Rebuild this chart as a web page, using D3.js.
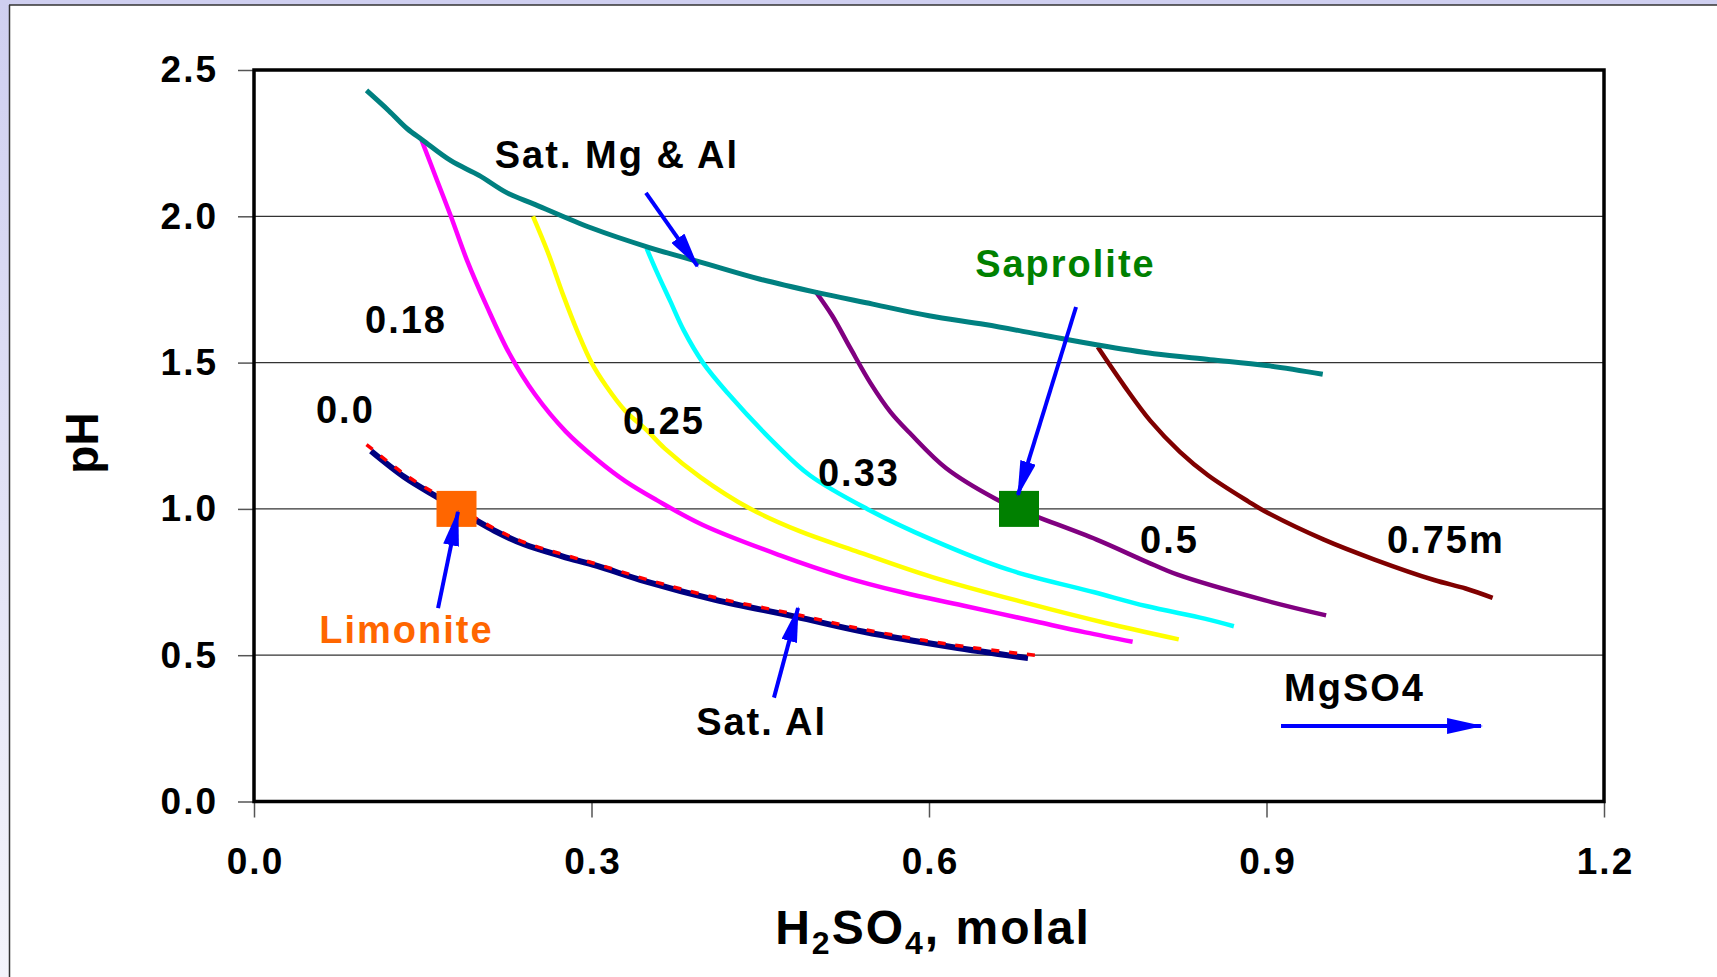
<!DOCTYPE html>
<html>
<head>
<meta charset="utf-8">
<script src="https://cdn.jsdelivr.net/npm/d3@7"></script>
<style>
  html, body { margin: 0; padding: 0; background: #fff; }
  svg { display: block; font-family: "Liberation Sans", Arial, sans-serif; font-weight: bold; }
</style>
</head>
<body>
<div id="chart"></div>
<script>
// axis ticks
const xTicks = [0, 0.3, 0.6, 0.9, 1.2];
const yTicks = [0, 0.5, 1.0, 1.5, 2.0, 2.5];

// saturation line for Mg & Al
const satMgAl = [[0.10, 2.43], [0.12, 2.36], [0.136, 2.30], [0.15, 2.26], [0.175, 2.19], [0.20, 2.14],
  [0.225, 2.08], [0.25, 2.04], [0.30, 1.96], [0.35, 1.895], [0.40, 1.84], [0.45, 1.785], [0.50, 1.74],
  [0.55, 1.70], [0.60, 1.66], [0.65, 1.63], [0.70, 1.595], [0.75, 1.56], [0.80, 1.53], [0.85, 1.51],
  [0.90, 1.49], [0.95, 1.46]];

// MgSO4 = 0.18 m
const mg018 = [[0.149, 2.26], [0.163, 2.12], [0.175, 2.0], [0.189, 1.853], [0.207, 1.692], [0.227, 1.531],
  [0.25, 1.39], [0.277, 1.265], [0.305, 1.168], [0.33, 1.095], [0.358, 1.03], [0.399, 0.945],
  [0.467, 0.842], [0.524, 0.768], [0.576, 0.715], [0.63, 0.67], [0.695, 0.615], [0.739, 0.578],
  [0.781, 0.546]];

// MgSO4 = 0.25 m
const mg025 = [[0.248, 2.0], [0.261, 1.879], [0.275, 1.729], [0.288, 1.602], [0.30, 1.50], [0.313, 1.42],
  [0.33, 1.335], [0.349, 1.269], [0.365, 1.207], [0.397, 1.108], [0.44, 1.003], [0.485, 0.924],
  [0.535, 0.856], [0.603, 0.767], [0.688, 0.677], [0.757, 0.61], [0.822, 0.554]];

// MgSO4 = 0.33 m
const mg033 = [[0.349, 1.89], [0.358, 1.81], [0.37, 1.71], [0.382, 1.61], [0.399, 1.50], [0.421, 1.396],
  [0.464, 1.22], [0.494, 1.115], [0.545, 1.0], [0.603, 0.894], [0.67, 0.793], [0.747, 0.715],
  [0.793, 0.668], [0.845, 0.625], [0.871, 0.599]];

// MgSO4 = 0.5 m
const mg05 = [[0.499, 1.744], [0.514, 1.66], [0.53, 1.55], [0.548, 1.43], [0.566, 1.33], [0.584, 1.255],
  [0.615, 1.14], [0.659, 1.035], [0.681, 0.996], [0.749, 0.895], [0.793, 0.82], [0.821, 0.775],
  [0.898, 0.688], [0.953, 0.636]];

// MgSO4 = 0.75 m
const mg075 = [[0.75, 1.553], [0.774, 1.418], [0.797, 1.30], [0.823, 1.195], [0.848, 1.115], [0.884, 1.025],
  [0.898, 0.993], [0.951, 0.895], [0.996, 0.827], [1.049, 0.757], [1.077, 0.728], [1.101, 0.696]];

// MgSO4 = 0.0, saturated Al
const mg00 = [[0.104, 1.198], [0.134, 1.108], [0.163, 1.04], [0.182, 0.996], [0.216, 0.921], [0.24, 0.879],
  [0.274, 0.838], [0.305, 0.805], [0.348, 0.752], [0.41, 0.689], [0.481, 0.632], [0.542, 0.58],
  [0.62, 0.528], [0.688, 0.49]];

// saturated Al (fit, dashed)
const satAl = [[0.10, 1.22], [0.134, 1.118], [0.163, 1.048], [0.182, 1.003], [0.216, 0.928], [0.24, 0.886],
  [0.274, 0.845], [0.305, 0.811], [0.348, 0.76], [0.41, 0.697], [0.481, 0.64], [0.542, 0.588],
  [0.62, 0.536], [0.70, 0.497]];

// ore points
const ores = [
  { name: "Limonite", x: 0.18, y: 1.0, color: "#ff6600" },
  { name: "Saprolite", x: 0.68, y: 1.0, color: "#008000" }
];

// text labels (data coords, left/baseline)
const labels = [
  { text: "Sat. Mg & Al", x: 0.214, y: 2.165, color: "#000" },
  { text: "Saprolite", x: 0.641, y: 1.793, color: "#008000" },
  { text: "Limonite", x: 0.058, y: 0.542, color: "#ff6600" },
  { text: "Sat. Al", x: 0.393, y: 0.227, color: "#000" },
  { text: "MgSO4", x: 0.9156, y: 0.3435, color: "#000" },
  { text: "0.18", x: 0.0987, y: 1.601, color: "#000" },
  { text: "0.0", x: 0.0551, y: 1.294, color: "#000" },
  { text: "0.25", x: 0.328, y: 1.256, color: "#000" },
  { text: "0.33", x: 0.5013, y: 1.078, color: "#000" },
  { text: "0.5", x: 0.7876, y: 0.849, color: "#000" },
  { text: "0.75m", x: 1.0071, y: 0.849, color: "#000" }
];

// blue arrows [from, to]
const arrows = [
  [[0.3484, 2.080], [0.3942, 1.830]],
  [[0.7307, 1.690], [0.6791, 1.048]],
  [[0.1636, 0.661], [0.1813, 0.990]],
  [[0.4622, 0.355], [0.4836, 0.661]],
  [[0.9129, 0.258], [1.0907, 0.258]]
];

const width = 1717, height = 977;
const plot = { left: 254, right: 1604, top: 70, bottom: 801.5 };

const svg = d3.select("#chart").append("svg")
  .attr("width", width)
  .attr("height", height);

// slide frame
const defs = svg.append("defs");
const grad = defs.append("linearGradient").attr("id", "side").attr("x1", 0).attr("y1", 0).attr("x2", 0).attr("y2", 1);
grad.append("stop").attr("offset", "0%").attr("stop-color", "#cfcff0");
grad.append("stop").attr("offset", "100%").attr("stop-color", "#f4f4fb");

svg.append("rect").attr("x", 0).attr("y", 0).attr("width", 10).attr("height", height).attr("fill", "url(#side)");
svg.append("rect").attr("x", 0).attr("y", 0).attr("width", width).attr("height", 5).attr("fill", "#cfcff0");
svg.append("line").attr("x1", 9).attr("y1", 5).attr("x2", width).attr("y2", 5).attr("stroke", "#333").attr("stroke-width", 1.5);
svg.append("line").attr("x1", 9.5).attr("y1", 5).attr("x2", 9.5).attr("y2", height).attr("stroke", "#333").attr("stroke-width", 1.5);

defs.append("marker")
  .attr("id", "head")
  .attr("markerUnits", "userSpaceOnUse")
  .attr("viewBox", "0 0 36 16")
  .attr("refX", 34).attr("refY", 8)
  .attr("markerWidth", 36).attr("markerHeight", 16)
  .attr("orient", "auto")
  .append("path")
  .attr("d", "M0,0 L36,8 L0,16 Z")
  .attr("fill", "#0000ff");

const x = d3.scaleLinear().domain([0, 1.2]).range([plot.left, plot.right]);
const y = d3.scaleLinear().domain([0, 2.5]).range([plot.bottom, plot.top]);

// gridlines
svg.append("g").selectAll("line")
  .data(yTicks.filter(d => d > 0 && d < 2.5))
  .join("line")
  .attr("x1", plot.left).attr("x2", plot.right)
  .attr("y1", d => y(d)).attr("y2", d => y(d))
  .attr("stroke", "#333").attr("stroke-width", 1.3);

// axes
const yAxis = svg.append("g")
  .attr("transform", `translate(${plot.left},0)`)
  .call(d3.axisLeft(y).tickValues(yTicks).tickFormat(d3.format(".1f")).tickSize(16).tickPadding(20));
const xAxis = svg.append("g")
  .attr("transform", `translate(0,${plot.bottom})`)
  .call(d3.axisBottom(x).tickValues(xTicks).tickFormat(d3.format(".1f")).tickSize(16).tickPadding(30));

[xAxis, yAxis].forEach(a => {
  a.select(".domain").remove();
  a.selectAll(".tick line").attr("stroke", "#555").attr("stroke-width", 1.5);
  a.selectAll(".tick text")
    .attr("fill", "#000")
    .style("font-size", "37px")
    .style("font-weight", "bold")
    .style("letter-spacing", "2px")
    .style("font-family", "'Liberation Sans', Arial, sans-serif");
});
xAxis.selectAll(".tick text").attr("dx", "1px");

// plot frame
svg.append("rect")
  .attr("x", plot.left).attr("y", plot.top)
  .attr("width", plot.right - plot.left).attr("height", plot.bottom - plot.top)
  .attr("fill", "none").attr("stroke", "#000").attr("stroke-width", 3.5);

const line = d3.line().x(d => x(d[0])).y(d => y(d[1])).curve(d3.curveCatmullRom.alpha(0.5));

const series = [
  { data: mg00, color: "#000080", w: 6 },
  { data: satAl, color: "#ff0000", w: 3.5, dash: "8,10" },
  { data: mg018, color: "#ff00ff", w: 4.5 },
  { data: mg025, color: "#ffff00", w: 4.5 },
  { data: mg033, color: "#00ffff", w: 4.5 },
  { data: mg05, color: "#800080", w: 4.5 },
  { data: mg075, color: "#800000", w: 4.5 },
  { data: satMgAl, color: "#008080", w: 5 }
];

svg.append("g").selectAll("path")
  .data(series)
  .join("path")
  .attr("d", d => line(d.data))
  .attr("fill", "none")
  .attr("stroke", d => d.color)
  .attr("stroke-width", d => d.w)
  .attr("stroke-dasharray", d => d.dash || null)
  .attr("stroke-linejoin", "round");

// ore markers
svg.append("g").selectAll("rect")
  .data(ores)
  .join("rect")
  .attr("x", d => x(d.x) - 20).attr("y", d => y(d.y) - 18)
  .attr("width", 40).attr("height", 36)
  .attr("fill", d => d.color);

// arrows
svg.append("g").selectAll("line")
  .data(arrows)
  .join("line")
  .attr("x1", d => x(d[0][0])).attr("y1", d => y(d[0][1]))
  .attr("x2", d => x(d[1][0])).attr("y2", d => y(d[1][1]))
  .attr("stroke", "#0000ff").attr("stroke-width", 4)
  .attr("marker-end", "url(#head)");

// annotation text
svg.append("g").selectAll("text")
  .data(labels)
  .join("text")
  .attr("x", d => x(d.x)).attr("y", d => y(d.y))
  .attr("fill", d => d.color)
  .style("font-size", "38px")
  .style("letter-spacing", "2px")
  .text(d => d.text);

// axis titles
const xt = svg.append("text")
  .attr("x", (plot.left + plot.right) / 2 + 4).attr("y", 944)
  .attr("text-anchor", "middle")
  .style("font-size", "48px")
  .style("letter-spacing", "2px");
xt.append("tspan").text("H");
xt.append("tspan").attr("dy", 10).style("font-size", "32px").text("2");
xt.append("tspan").attr("dy", -10).text("SO");
xt.append("tspan").attr("dy", 10).style("font-size", "32px").text("4");
xt.append("tspan").attr("dy", -10).text(", molal");

svg.append("text")
  .attr("transform", "translate(98,443) rotate(-90)")
  .attr("text-anchor", "middle")
  .style("font-size", "46px")
  .text("pH");
</script>
</body>
</html>
